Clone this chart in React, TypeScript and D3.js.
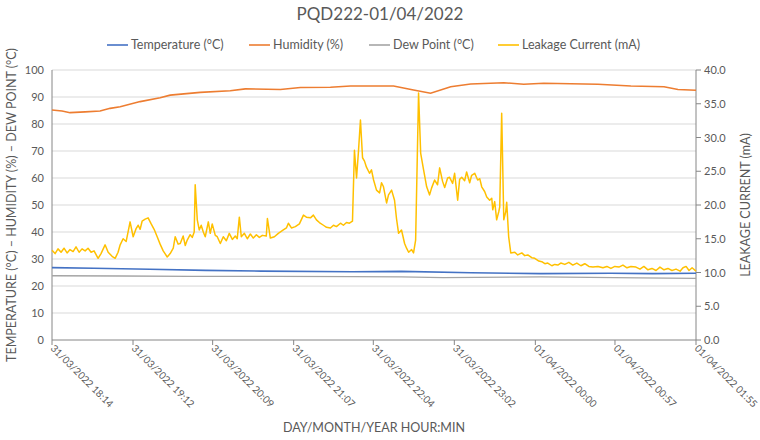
import * as d3 from "d3";

// ---- data ----
const title = "PQD222-01/04/2022";

const xTickLabels = [
  "31/03/2022 18:14",
  "31/03/2022 19:12",
  "31/03/2022 20:09",
  "31/03/2022 21:07",
  "31/03/2022 22:04",
  "31/03/2022 23:02",
  "01/04/2022 00:00",
  "01/04/2022 00:57",
  "01/04/2022 01:55",
];
const leftTicks = [0, 10, 20, 30, 40, 50, 60, 70, 80, 90, 100];
const rightTicks = [0, 5, 10, 15, 20, 25, 30, 35, 40];

// [minutes since 18:14, value]
const temperature: [number, number][] = [
  [0, 26.8], [30, 26.6], [70, 26.2], [110, 25.8], [150, 25.5], [215, 25.3],
  [250, 25.4], [300, 24.9], [350, 24.6], [400, 24.7], [430, 24.6], [461, 24.7],
];
const humidity: [number, number][] = [
  [0, 85.2], [7.2, 84.8], [12.9, 84.2], [23.7, 84.5], [34.4, 84.8], [41.6, 85.8],
  [48.8, 86.4], [63.1, 88.3], [77.4, 89.7], [84.6, 90.7], [106.1, 91.7],
  [127.6, 92.3], [138.4, 93.0], [163.5, 92.8], [177.8, 93.5], [199.3, 93.6],
  [213.7, 94.1], [244.5, 94.1], [258.8, 92.6], [271.0, 91.4], [285.4, 93.8],
  [299.7, 94.8], [323.4, 95.3], [337.7, 94.7], [352.0, 95.1], [390.8, 94.7],
  [414.4, 94.1], [438.1, 93.8], [448.1, 92.8], [461, 92.5],
];
const dewPoint: [number, number][] = [
  [0, 23.8], [50, 23.7], [100, 23.6], [160, 23.6], [215, 23.5], [250, 23.4],
  [280, 23.1], [350, 23.4], [420, 23.0], [461, 22.8],
];
const leakage: [number, number][] = [
  [0, 13.3], [2.2, 12.8], [4.3, 13.5], [6.5, 13.0], [8.6, 13.6], [10.8, 12.9],
  [12.9, 13.4], [15.1, 13.1], [17.2, 13.8], [19.4, 13.0], [21.5, 13.5], [23.7, 13.2],
  [25.8, 13.6], [28.0, 13.0], [30.1, 13.2], [33.0, 12.1], [35.1, 12.8], [38.0, 14.1],
  [40.2, 13.0], [43.0, 12.4], [45.2, 12.1], [47.3, 13.0], [48.8, 14.1], [50.9, 15.0],
  [53.1, 14.6], [55.9, 17.5], [58.1, 15.3], [60.2, 16.5], [61.7, 17.0], [63.1, 16.4],
  [64.5, 17.6], [66.7, 17.9], [68.8, 18.1], [71.0, 17.2], [73.1, 16.4], [75.3, 15.3],
  [77.4, 14.2], [79.6, 13.2], [82.5, 12.3], [84.6, 12.8], [86.8, 13.6], [88.2, 15.3],
  [90.3, 14.2], [91.8, 14.3], [93.9, 15.4], [95.4, 14.0], [96.8, 14.8], [98.9, 15.6],
  [100.4, 15.2], [101.8, 16.0], [102.5, 23.0], [104.0, 17.8], [105.4, 16.3],
  [106.8, 17.0], [108.3, 16.0], [109.7, 15.3], [111.9, 17.5], [113.3, 15.8],
  [114.7, 17.2], [116.9, 15.5], [118.3, 15.3], [120.5, 14.3], [122.6, 15.3],
  [124.8, 14.7], [126.9, 15.8], [129.1, 14.9], [131.2, 15.4], [132.6, 15.0],
  [134.1, 18.2], [135.5, 15.3], [137.7, 15.8], [139.8, 15.0], [142.0, 15.7],
  [144.1, 15.1], [146.3, 15.6], [148.4, 15.2], [150.6, 15.5], [153.4, 15.4],
  [154.2, 18.0], [156.3, 15.1], [159.2, 15.3], [162.0, 15.8], [165.6, 16.3],
  [167.8, 16.6], [169.2, 17.3], [171.4, 16.6], [174.2, 16.8], [177.1, 17.2],
  [180.0, 18.5], [182.1, 18.2], [185.0, 18.1], [187.1, 18.5], [189.3, 17.8],
  [191.4, 17.4], [194.3, 17.0], [196.5, 16.7], [199.3, 16.6], [201.5, 17.0],
  [203.6, 16.8], [206.5, 17.3], [208.6, 17.0], [210.8, 17.4], [212.9, 17.3],
  [215.1, 17.6], [216.5, 28.1], [218.0, 24.0], [219.4, 28.0], [220.8, 32.6],
  [222.3, 27.0], [223.7, 26.5], [225.1, 25.6], [227.3, 24.7], [228.7, 25.2],
  [230.2, 23.7], [232.3, 22.2], [234.5, 21.8], [235.9, 23.3], [237.3, 22.7],
  [239.5, 20.3], [240.9, 21.5], [243.1, 22.2], [245.2, 20.7], [246.6, 18.0],
  [248.1, 15.8], [250.2, 16.3], [252.4, 14.3], [253.8, 13.6], [255.3, 13.0],
  [257.4, 13.4], [258.8, 12.9], [260.3, 14.8], [262.4, 36.6], [263.9, 27.7],
  [266.0, 25.2], [268.2, 22.7], [270.3, 21.5], [271.7, 22.5], [273.9, 23.7],
  [276.0, 23.0], [277.5, 25.5], [279.6, 23.5], [281.1, 22.6], [283.2, 24.0],
  [284.6, 24.1], [286.8, 23.2], [288.2, 24.7], [290.4, 20.7], [291.8, 23.8],
  [293.3, 24.1], [295.4, 23.6], [296.8, 24.9], [299.0, 23.3], [300.4, 24.4],
  [302.6, 24.7], [304.7, 23.7], [306.2, 23.9], [307.6, 22.7], [309.7, 22.0],
  [311.2, 21.2], [313.3, 20.7], [314.8, 21.0], [315.5, 19.3], [316.9, 20.5],
  [318.3, 17.8], [319.8, 19.0], [320.5, 19.7], [321.9, 33.6], [323.4, 17.8],
  [324.8, 19.0], [325.5, 20.4], [326.9, 15.3], [328.4, 12.9], [331.3, 13.0],
  [333.4, 12.6], [336.3, 12.9], [338.4, 12.5], [340.6, 12.6], [343.4, 12.2],
  [345.6, 12.1], [348.5, 11.7], [350.6, 11.6], [352.8, 11.3], [354.9, 11.4],
  [357.8, 11.0], [359.9, 11.2], [362.1, 11.1], [364.2, 11.4], [367.1, 11.2],
  [370.0, 11.5], [372.8, 11.1], [375.7, 11.4], [378.6, 11.0], [381.4, 11.3],
  [384.3, 10.9], [387.2, 10.8], [390.8, 10.9], [394.4, 10.7], [397.2, 10.9],
  [400.1, 10.6], [402.9, 10.9], [405.8, 10.8], [408.7, 11.1], [411.6, 10.7],
  [414.4, 10.9], [418.0, 10.8], [420.9, 10.5], [423.7, 10.9], [426.6, 10.4],
  [429.5, 10.6], [432.4, 10.3], [435.2, 10.8], [438.1, 10.4], [440.9, 10.6],
  [443.8, 10.3], [446.7, 10.5], [449.6, 10.2], [451.7, 10.7], [453.9, 10.9],
  [456.0, 10.3], [458.2, 10.7], [461.0, 10.2],
];

const legendItems = [
  { name: "Temperature (°C)", color: "#4472C4" },
  { name: "Humidity (%)", color: "#ED7D31" },
  { name: "Dew Point (°C)", color: "#A5A5A5" },
  { name: "Leakage Current (mA)", color: "#FFC000" },
];

// ---- layout ----
const W = 760;
const H = 440;
const margin = { top: 70, right: 64, bottom: 100, left: 52 };
const font = "Lato, 'Open Sans', sans-serif";
const textColor = "#595959";

const parse = d3.timeParse("%d/%m/%Y %H:%M");
const tStart = parse(xTickLabels[0]) as Date;
const tEnd = parse(xTickLabels[xTickLabels.length - 1]) as Date;
const at = (min: number) => new Date(tStart.getTime() + min * 60000);

export default function App() {
  const x = d3.scaleTime().domain([tStart, tEnd]).range([margin.left, W - margin.right]);
  const yL = d3.scaleLinear().domain([0, 100]).range([H - margin.bottom, margin.top]);
  const yR = d3.scaleLinear().domain([0, 40]).range([H - margin.bottom, margin.top]);

  const lineL = d3
    .line<[number, number]>()
    .x((d) => x(at(d[0])))
    .y((d) => yL(d[1]));
  const lineR = d3
    .line<[number, number]>()
    .x((d) => x(at(d[0])))
    .y((d) => yR(d[1]));

  const x0 = margin.left;
  const x1 = W - margin.right;
  const yBase = H - margin.bottom;

  // legend starting positions
  const legendX = [107, 249, 369, 498];

  return (
    <svg
      width={W}
      height={H}
      style={{ position: "absolute", left: 0, top: 0, background: "#fff" }}
      fontFamily={font}
    >
      <text x={380} y={20} textAnchor="middle" fontSize={17} fill={textColor}>
        {title}
      </text>

      {legendItems.map((it, i) => (
        <g key={it.name} transform={`translate(${legendX[i]},45)`}>
          <line x1={0} x2={21} y1={0} y2={0} stroke={it.color} strokeWidth={1.6} />
          <text x={24} y={4} fontSize={12.5} fill={textColor}>
            {it.name}
          </text>
        </g>
      ))}

      {/* gridlines */}
      {leftTicks.slice(1).map((t) => (
        <line key={t} x1={x0} x2={x1} y1={yL(t)} y2={yL(t)} stroke="#D9D9D9" strokeWidth={1} />
      ))}

      {/* axes */}
      <line x1={x0} x2={x0} y1={margin.top} y2={yBase} stroke="#868686" strokeWidth={1} />
      <line x1={x1} x2={x1} y1={margin.top} y2={yBase} stroke="#868686" strokeWidth={1} />
      <line x1={x0} x2={x1} y1={yBase} y2={yBase} stroke="#868686" strokeWidth={1} />

      {leftTicks.map((t) => (
        <text key={t} x={x0 - 8} y={yL(t) + 4} textAnchor="end" fontSize={11} fill={textColor}>
          {t}
        </text>
      ))}
      {rightTicks.map((t) => (
        <g key={t}>
          <line x1={x1} x2={x1 + 5} y1={yR(t)} y2={yR(t)} stroke="#868686" />
          <text x={x1 + 8} y={yR(t) + 4} fontSize={11} fill={textColor}>
            {t.toFixed(1)}
          </text>
        </g>
      ))}

      {xTickLabels.map((lab) => {
        const px = x(parse(lab) as Date);
        return (
          <g key={lab}>
            <line x1={px} x2={px} y1={yBase} y2={yBase + 5} stroke="#868686" />
            <text
              transform={`translate(${px - 2},${yBase + 9}) rotate(45)`}
              fontSize={10}
              fill={textColor}
            >
              {lab}
            </text>
          </g>
        );
      })}

      {/* series */}
      <path d={lineL(temperature) || ""} fill="none" stroke="#4472C4" strokeWidth={1.6} />
      <path d={lineL(humidity) || ""} fill="none" stroke="#ED7D31" strokeWidth={1.6} />
      <path d={lineL(dewPoint) || ""} fill="none" stroke="#A5A5A5" strokeWidth={1.3} />
      <path
        d={lineR(leakage) || ""}
        fill="none"
        stroke="#FFC000"
        strokeWidth={1.5}
        strokeLinejoin="round"
      />

      {/* axis titles */}
      <text
        transform={`translate(16,${(margin.top + yBase) / 2}) rotate(-90)`}
        textAnchor="middle"
        fontSize={12.5}
        fill={textColor}
      >
        TEMPERATURE (°C) – HUMIDITY (%) – DEW POINT (°C)
      </text>
      <text
        transform={`translate(750,${(margin.top + yBase) / 2}) rotate(-90)`}
        textAnchor="middle"
        fontSize={12.5}
        fill={textColor}
      >
        LEAKAGE CURRENT (mA)
      </text>
      <text x={374} y={432} textAnchor="middle" fontSize={12.5} fill={textColor}>
        DAY/MONTH/YEAR HOUR:MIN
      </text>
    </svg>
  );
}
